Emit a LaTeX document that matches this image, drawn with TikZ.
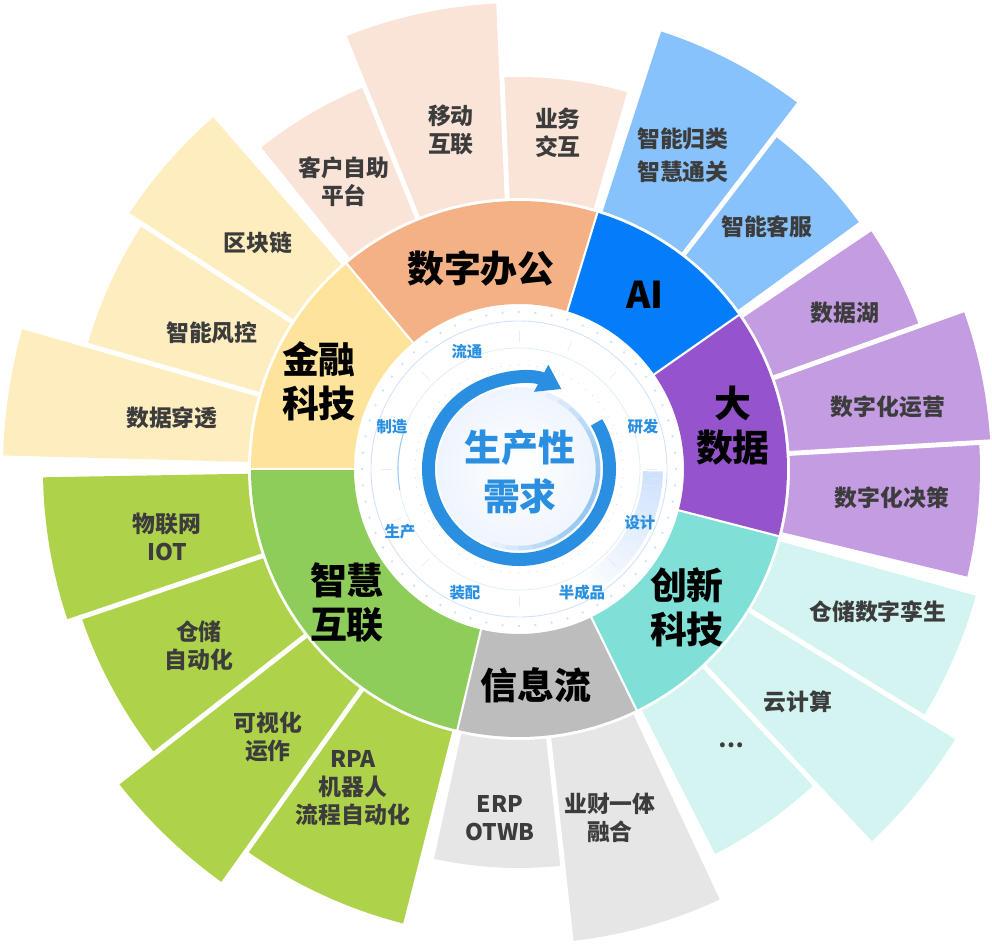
\documentclass[tikz,border=0pt]{standalone}
\usepackage{fontspec}
\setmainfont{Noto Sans CJK SC}
\newfontfamily\heavyfont{Noto Sans CJK SC Black}
\usetikzlibrary{arrows.meta}

\definecolor{finIn}{HTML}{FEE39B}
\definecolor{finOut}{HTML}{FDEDBF}
\definecolor{offIn}{HTML}{F3B185}
\definecolor{offOut}{HTML}{FAE4D8}
\definecolor{aiIn}{HTML}{057DFA}
\definecolor{aiOut}{HTML}{88C2FC}
\definecolor{bigIn}{HTML}{9554CB}
\definecolor{bigOut}{HTML}{C49CE2}
\definecolor{innIn}{HTML}{80E0D7}
\definecolor{innOut}{HTML}{D3F4F0}
\definecolor{infIn}{HTML}{BDBDBD}
\definecolor{infOut}{HTML}{E6E6E6}
\definecolor{smtIn}{HTML}{8FCD5A}
\definecolor{smtOut}{HTML}{AFD24B}
\definecolor{ringblue}{HTML}{2A8FE0}
\definecolor{paleblue}{HTML}{CFE2FB}
\definecolor{subtext}{HTML}{3C3C3C}

\tikzset{
    cat/.style={font=\fontsize{21}{25}\selectfont\heavyfont, text=black, align=center},
    sub/.style={font=\fontsize{13}{16}\selectfont\bfseries, text=subtext, align=center},
    flow/.style={font=\fontsize{8.8}{10}\selectfont\bfseries, text=ringblue},
}

\begin{document}
\begin{tikzpicture}[x=0.02cm, y=0.02cm]
    \useasboundingbox (-519,-475) rectangle (473,469);

    % Inner ring
    \foreach \a/\b/\c in {-64/-14.5/innIn, -14.5/35/bigIn, 35/73/aiIn, 73/130/offIn,
                          130/180/finIn, 180/256.7/smtIn, 256.7/296/infIn} {
        \fill[\c] (\a:165) arc[start angle=\a, end angle=\b, radius=165]
            -- (\b:268) arc[start angle=\b, end angle=\a, radius=268] -- cycle;
    }
    \foreach \a in {-64,-14.5,35,73,130,180,256.7} {
        \draw[white, line width=1.2pt] (\a:160) -- (\a:270);
    }

    % Outer ring
    \foreach \a/\b/\r/\c in {164/178.5/516/finOut, 147/164/449/finOut, 131/147/466/finOut,
                             112/128.7/412/offOut, 92.5/112/466/offOut, 74/92.5/392/offOut,
                             52.5/72/460/aiOut, 36/52.5/420/aiOut,
                             19.7/34/425/bigOut, 3.3/19.7/472/bigOut, -13.5/3.3/461/bigOut,
                             -31.5/-15.5/474/innOut, -46.8/-31.5/513/innOut, -63/-46.8/432/innOut,
                             -83.7/-65/475/infOut, -102.3/-83.7/399/infOut,
                             -125.5/-104.3/469/smtOut, -142/-125.5/509/smtOut,
                             -161.3/-142/462/smtOut, -179/-161.3/476/smtOut} {
        \fill[\c] (\a:271) arc[start angle=\a, end angle=\b, radius=271]
            -- (\b:\r) arc[start angle=\b, end angle=\a, radius=\r] -- cycle;
    }
    \foreach \a in {164,147,112,92.5,52.5,19.7,3.3,-31.5,-46.8,-83.7,-125.5,-142,-161.3} {
        \draw[white, line width=2.8pt] (\a:270) -- (\a:530);
    }

    % Center dial
    \foreach \t in {0,6,...,354} {
        \fill[paleblue] (\t:157) circle[radius=1.3];
    }
    \draw[paleblue, line width=0.5pt] (0,0) circle[radius=148];
    \draw[paleblue!70, line width=0.4pt] (0,0) circle[radius=121];
    \draw[ringblue!45, line width=0.6pt] (160:121) arc[start angle=160, end angle=190, radius=121];
    \foreach \t in {0,22.5,...,337.5} {
        \draw[gray!15, line width=0.4pt] (\t:127) -- (\t:138);
    }
    \foreach \t in {0,5,...,355} {
        \fill[paleblue] (\t:104) circle[radius=0.7];
    }
    \foreach \i in {0,...,19} {
        \pgfmathsetmacro\s{-1-3*\i}
        \pgfmathsetmacro\e{\s-3}
        \pgfmathsetmacro\o{1-\i/20}
        \fill[paleblue, opacity=\o] (\s:124) arc[start angle=\s, end angle=\e, radius=124]
            -- (\e:144) arc[start angle=\e, end angle=\s, radius=144] -- cycle;
    }
    \shade[inner color=white, outer color=paleblue!35] (0,0) circle[radius=82];
    \foreach \i in {0,...,17} {
        \pgfmathsetmacro\s{70-10*\i}
        \pgfmathsetmacro\e{\s-10}
        \pgfmathsetmacro\o{0.9*sin(10*\i+5)}
        \draw[ringblue!55, line width=2.6pt, opacity=\o] (\s:79) arc[start angle=\s, end angle=\e, radius=79];
    }
    \draw[ringblue, line width=7.4pt, -{Triangle[width=0.58cm, length=0.46cm]}]
        (31:90.5) arc[start angle=31, end angle=-298, radius=90.5];

    \node[font=\fontsize{21}{28}\selectfont\bfseries, text=ringblue, align=center] (core) at (1,-3) {生产性\\需求};

    % Flow labels
    \node[flow] (liutong) at (-52,117) {流通};
    \node[flow] (yanfa) at (124,42) {研发};
    \node[flow] (sheji) at (121,-54) {设计};
    \node[flow] (banchengpin) at (63,-124) {半成品};
    \node[flow] (zhuangpei) at (-54,-124) {装配};
    \node[flow] (shengchan) at (-119,-63) {生产};
    \node[flow] (zhizao) at (-127,42) {制造};

    % Category labels
    \node[cat] (fintech) at (-200,88) {金融\\科技};
    \node[cat] (office) at (-38,201) {数字办公};
    \node[cat] (ai) at (126,174) {AI};
    \node[cat] (bigdata) at (214,43) {大\\数据};
    \node[cat] (innov) at (168,-138) {创新\\科技};
    \node[cat] (infoflow) at (17,-216) {信息流};
    \node[cat] (smart) at (-172,-134) {智慧\\互联};

    % Sub labels
    \node[sub] (selfsvc) at (-175,287) {客户自助\\平台};
    \node[sub] (mobile) at (-68,339) {移动\\互联};
    \node[sub] (bizint) at (39,336) {业务\\交互};
    \node[sub, font=\fontsize{13}{19}\selectfont\bfseries] (classify) at (164,314) {智能归类\\智慧通关};
    \node[sub] (service) at (248,242) {智能客服};
    \node[sub] (lake) at (326,156) {数据湖};
    \node[sub] (ops) at (369,62) {数字化运营};
    \node[sub] (decide) at (373,-29) {数字化决策};
    \node[sub] (twin) at (359,-143) {仓储数字孪生};
    \node[sub] (cloud) at (279,-233) {云计算};
    \node[sub] (more) at (212,-276) {…};
    \node[sub] (bizfin) at (91,-349) {业财一体\\融合};
    \node[sub] (erp) at (-19,-349) {ERP\\OTWB};
    \node[sub] (rpa) at (-166,-319) {RPA\\机器人\\流程自动化};
    \node[sub] (visual) at (-251,-268) {可视化\\运作};
    \node[sub] (whauto) at (-320,-177) {仓储\\自动化};
    \node[sub] (iot) at (-352,-68) {物联网\\IOT};
    \node[sub] (pierce) at (-347,51) {数据穿透};
    \node[sub] (risk) at (-307,136) {智能风控};
    \node[sub] (chain) at (-261,226) {区块链};
\end{tikzpicture}
\end{document}
